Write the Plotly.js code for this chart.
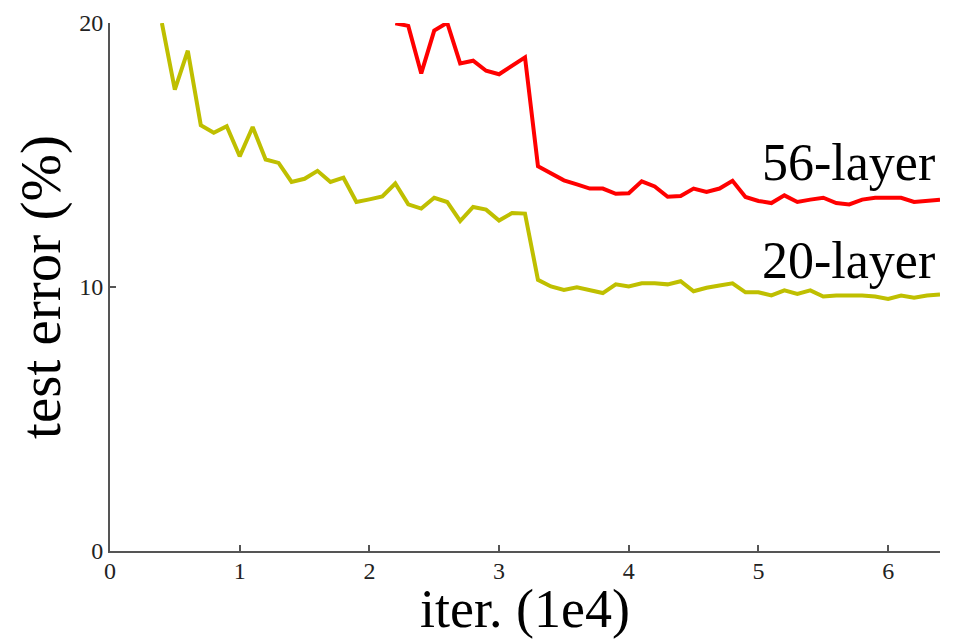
<!DOCTYPE html>
<html>
<head>
<meta charset="utf-8">
<script src="https://cdn.plot.ly/plotly-3.0.1.min.js"></script>
<style>html,body{margin:0;padding:0;background:#fff;}#chart{width:958px;height:639px;}</style>
</head>
<body>
<div id="chart"></div>
<script>
// iterations (1e4)
const iter20 = [0.4,0.5,0.6,0.7,0.8,0.9,1.0,1.1,1.2,1.3,1.4,1.5,1.6,1.7,1.8,1.9,2.0,2.1,2.2,2.3,2.4,2.5,2.6,2.7,2.8,2.9,3.0,3.1,3.2,3.3,3.4,3.5,3.6,3.7,3.8,3.9,4.0,4.1,4.2,4.3,4.4,4.5,4.6,4.7,4.8,4.9,5.0,5.1,5.2,5.3,5.4,5.5,5.6,5.7,5.8,5.9,6.0,6.1,6.2,6.3,6.4];
const err20 = [20.0,17.48,18.95,16.13,15.84,16.09,14.95,16.06,14.83,14.70,13.98,14.1,14.4,13.98,14.14,13.22,13.32,13.43,13.92,13.13,12.97,13.38,13.22,12.5,13.03,12.93,12.52,12.8,12.78,10.27,10.02,9.89,9.99,9.89,9.77,10.1,10.02,10.14,10.14,10.1,10.22,9.84,9.97,10.06,10.14,9.8,9.8,9.68,9.87,9.74,9.87,9.64,9.68,9.68,9.68,9.64,9.55,9.68,9.59,9.68,9.72];
const iter56 = [2.2,2.3,2.4,2.5,2.6,2.7,2.8,2.9,3.0,3.1,3.2,3.3,3.4,3.5,3.6,3.7,3.8,3.9,4.0,4.1,4.2,4.3,4.4,4.5,4.6,4.7,4.8,4.9,5.0,5.1,5.2,5.3,5.4,5.5,5.6,5.7,5.8,5.9,6.0,6.1,6.2,6.3,6.4];
const err56 = [19.99,19.89,18.09,19.71,20.01,18.47,18.57,18.19,18.06,18.37,18.7,14.57,14.32,14.04,13.89,13.73,13.73,13.53,13.55,14.0,13.81,13.42,13.45,13.73,13.6,13.73,14.02,13.41,13.26,13.18,13.47,13.22,13.31,13.38,13.18,13.13,13.31,13.38,13.38,13.38,13.22,13.26,13.31];
const seriesNames = ['20-layer','56-layer'];
const xTicks = [0,1,2,3,4,5,6];
const yTicks = [0,10,20];

const serif = 'Liberation Serif, Times New Roman, serif';
const traces = [
  {x: iter20, y: err20, mode: 'lines', name: seriesNames[0], line: {color: '#bfbf00', width: 4}},
  {x: iter56, y: err56, mode: 'lines', name: seriesNames[1], line: {color: '#ff0000', width: 4}}
];
const layout = {
  width: 958, height: 639,
  margin: {l: 110, r: 18, t: 23, b: 88},
  paper_bgcolor: '#fff', plot_bgcolor: '#fff',
  showlegend: false,
  font: {family: serif, color: '#222'},
  xaxis: {
    range: [0, 6.4], tickvals: xTicks, ticktext: xTicks.map(String),
    showgrid: false, zeroline: false, showline: true, linecolor: '#555', linewidth: 2,
    ticks: 'inside', ticklen: 6, tickcolor: '#555', tickwidth: 2,
    ticklabelstandoff: -3,
    tickfont: {family: serif, size: 24, color: '#222'},
    title: {text: 'iter. (1e4)', font: {family: serif, size: 54, color: '#000'}, standoff: 4}
  },
  yaxis: {
    range: [0, 20], tickvals: yTicks, ticktext: yTicks.map(String),
    showgrid: false, zeroline: false, showline: true, linecolor: '#555', linewidth: 2,
    ticks: 'inside', ticklen: 6, tickcolor: '#555', tickwidth: 2,
    tickfont: {family: serif, size: 24, color: '#222'},
    title: {text: 'test error (%)', font: {family: serif, size: 57, color: '#000'}, standoff: 0}
  },
  annotations: [
    {x: 6.38, y: 14.7, xref: 'x', yref: 'y', text: seriesNames[1], showarrow: false, xanchor: 'right', yanchor: 'middle', font: {family: serif, size: 52, color: '#000'}},
    {x: 6.38, y: 11.0, xref: 'x', yref: 'y', text: seriesNames[0], showarrow: false, xanchor: 'right', yanchor: 'middle', font: {family: serif, size: 52, color: '#000'}}
  ]
};
Plotly.newPlot('chart', traces, layout, {displayModeBar: false, staticPlot: true});
</script>
</body>
</html>
